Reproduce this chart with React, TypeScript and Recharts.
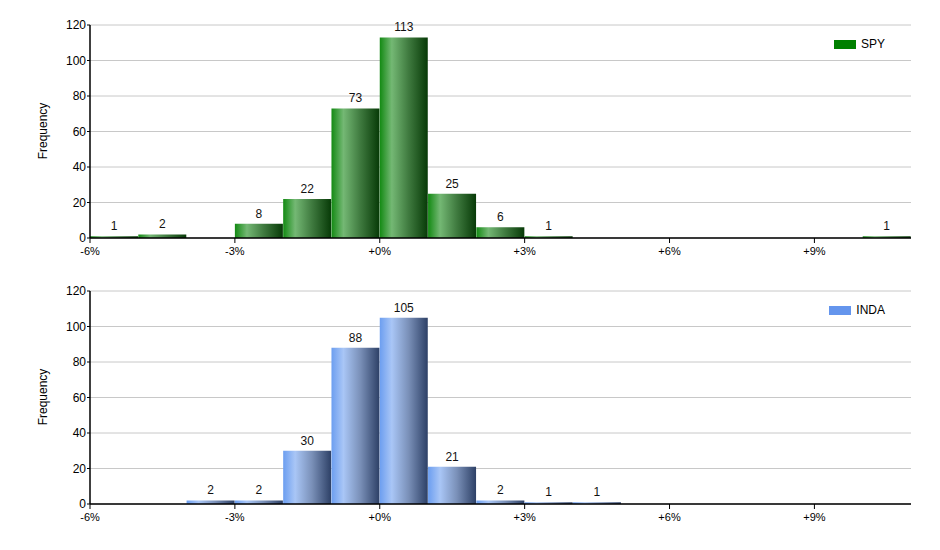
import { BarChart, Bar, XAxis, YAxis, CartesianGrid, LabelList } from 'recharts';

// bin start (%) for each 1%-wide bucket
const binStarts = [-6, -5, -4, -3, -2, -1, 0, 1, 2, 3, 4, 5, 6, 7, 8, 9, 10];
const spyCounts = [1, 2, 0, 8, 22, 73, 113, 25, 6, 1, 0, 0, 0, 0, 0, 0, 1];
const indaCounts = [0, 0, 2, 2, 30, 88, 105, 21, 2, 1, 1, 0, 0, 0, 0, 0, 0];
const pctTicks = [-6, -3, 0, 3, 6, 9];
const freqTicks = [0, 20, 40, 60, 80, 100, 120];

const FONT = "'Liberation Sans', Arial, sans-serif";

const fmtPct = (v: number) => (v < 0 ? `${v}%` : `+${v}%`);

interface HistProps {
  name: string;
  counts: number[];
  color: string;
  stops: string[];
  top: number;
}

const Histogram = ({ name, counts, color, stops, top }: HistProps) => {
  const data = binStarts.map((b, i) => ({ bin: b, count: counts[i] || null }));
  const gid = `grad-${name}`;
  return (
    <div style={{ position: 'absolute', left: 0, top, width: 940, height: 265 }}>
      <BarChart
        width={940}
        height={265}
        data={data}
        barCategoryGap={0}
        margin={{ top: 25, right: 29, bottom: 0, left: 0 }}
        style={{ fontFamily: FONT }}
      >
        <defs>
          <linearGradient id={gid} x1="0" y1="0" x2="1" y2="0">
            <stop offset="0%" stopColor={stops[0]} />
            <stop offset="25%" stopColor={stops[1]} />
            <stop offset="60%" stopColor={stops[2]} />
            <stop offset="100%" stopColor={stops[3]} />
          </linearGradient>
        </defs>
        <CartesianGrid vertical={false} stroke="#c8c8c8" />
        <XAxis
          xAxisId="pct"
          dataKey="bin"
          type="number"
          domain={[-6, 11]}
          ticks={pctTicks}
          allowDataOverflow
          tickFormatter={fmtPct}
          height={27}
          axisLine={{ stroke: '#000', strokeWidth: 1.5 }}
          tickLine={{ stroke: '#000' }}
          tickSize={5}
          tickMargin={4}
          tick={{ fill: '#000', fontSize: 11 }}
        />
        <XAxis xAxisId="bin" dataKey="bin" hide height={0} />
        <YAxis
          domain={[0, 120]}
          ticks={freqTicks}
          width={90}
          axisLine={{ stroke: '#000', strokeWidth: 1.5 }}
          tickLine={{ stroke: '#000' }}
          tickSize={3}
          tickMargin={1}
          tick={{ fill: '#000', fontSize: 12 }}
        />
        <Bar dataKey="count" xAxisId="bin" fill={`url(#${gid})`} isAnimationActive={false}>
          <LabelList dataKey="count" position="top" offset={6} fill="#111" fontSize={12} />
        </Bar>
      </BarChart>
      <div
        style={{
          position: 'absolute',
          left: 43,
          top: 131,
          transform: 'translate(-50%, -50%) rotate(-90deg)',
          fontFamily: FONT,
          fontSize: 12,
          color: '#000',
          whiteSpace: 'nowrap',
        }}
      >
        Frequency
      </div>
      <div
        style={{
          position: 'absolute',
          right: 55,
          top: 37,
          display: 'flex',
          alignItems: 'center',
          fontFamily: FONT,
          fontSize: 12,
          color: '#000',
        }}
      >
        <span style={{ display: 'inline-block', width: 22, height: 9, background: color, marginRight: 5 }} />
        {name}
      </div>
    </div>
  );
};

export default function App() {
  return (
    <div style={{ position: 'absolute', left: 0, top: 0, width: 940, height: 550, background: '#fff' }}>
      <Histogram
        name="SPY"
        counts={spyCounts}
        color="#008000"
        stops={['#138a13', '#74b874', '#3f7a3f', '#073a07']}
        top={0}
      />
      <Histogram
        name="INDA"
        counts={indaCounts}
        color="#6495ed"
        stops={['#6c9ef0', '#a9c6f6', '#7a90b8', '#2d4066']}
        top={266}
      />
    </div>
  );
}
